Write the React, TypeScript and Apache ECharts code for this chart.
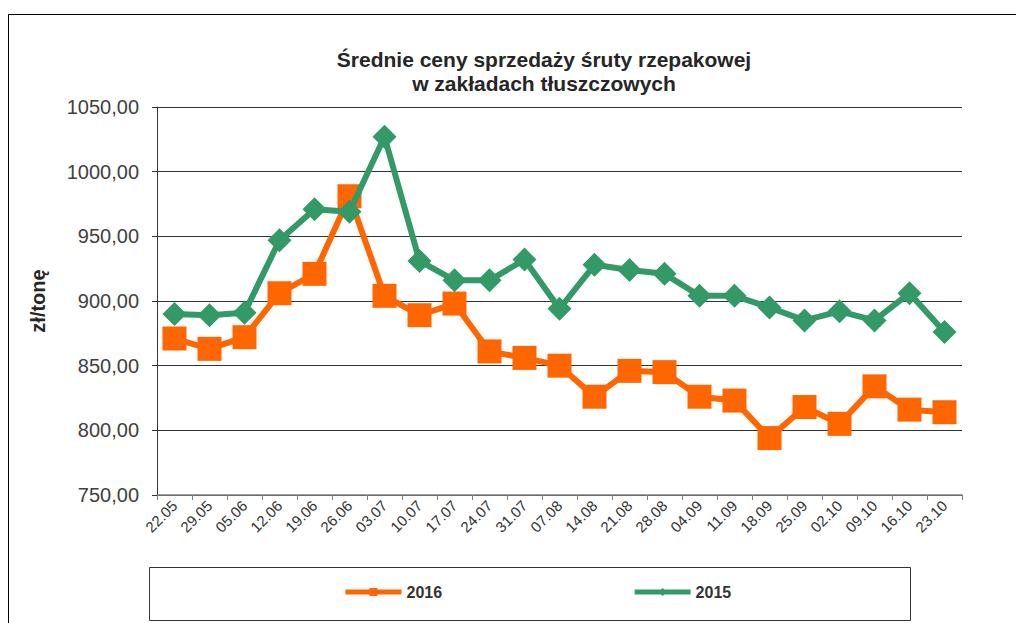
import React, { useEffect, useRef } from "react";
import * as echarts from "echarts";

const categories = ["22.05","29.05","05.06","12.06","19.06","26.06","03.07","10.07","17.07","24.07","31.07","07.08","14.08","21.08","28.08","04.09","11.09","18.09","25.09","02.10","09.10","16.10","23.10"];
const values2016 = [871, 863, 872, 906, 921, 981, 904, 889, 898, 861, 856, 850, 826, 846, 845, 826, 823, 794, 818, 805, 834, 816, 814];
const values2015 = [890, 889, 891, 947, 971, 969, 1027, 931, 916, 916, 932, 894, 928, 924, 921, 904, 904, 895, 885, 892, 885, 906, 876];
const yTicks = { min: 750, max: 1050, interval: 50 };

export default function App() {
  const ref = useRef<HTMLDivElement>(null);
  useEffect(() => {
    if (!ref.current) return;
    const chart = echarts.init(ref.current, undefined, { renderer: "svg" });
    const font = "Liberation Sans, Arial, sans-serif";
    chart.setOption({
      animation: false,
      backgroundColor: "#fff",
      textStyle: { fontFamily: font },
      title: {
        text: "Średnie ceny sprzedaży śruty rzepakowej\nw zakładach tłuszczowych",
        left: 539,
        top: 42,
        textAlign: "center",
        textStyle: { fontSize: 21, fontWeight: "bold", color: "#262626", lineHeight: 24, fontFamily: font },
      },
      grid: { left: 157, right: 54, top: 107, bottom: 128 },
      xAxis: {
        type: "category",
        data: categories,
        boundaryGap: true,
        axisLine: { lineStyle: { color: "#808080", width: 1.5 } },
        axisTick: { show: true, length: 5, lineStyle: { color: "#808080" } },
        axisLabel: { rotate: 45, fontSize: 15, color: "#333", margin: 8, interval: 0, fontFamily: font },
      },
      yAxis: {
        type: "value",
        min: yTicks.min,
        max: yTicks.max,
        interval: yTicks.interval,
        name: "zł/tonę",
        nameLocation: "middle",
        nameGap: 109,
        nameTextStyle: { fontSize: 20, fontWeight: "bold", color: "#262626", fontFamily: font },
        axisLine: { show: true, lineStyle: { color: "#333" } },
        axisTick: { show: true, length: 5, lineStyle: { color: "#333" } },
        axisLabel: {
          fontSize: 20,
          color: "#404040",
          margin: 18,
          fontFamily: font,
          formatter: (v: number) => v.toFixed(2).replace(".", ","),
        },
        splitLine: { lineStyle: { color: "#333", width: 1 } },
      },
      legend: {
        left: 338,
        top: 579,
        itemWidth: 56,
        itemHeight: 10,
        itemGap: 190,
        lineStyle: { width: 5 },
        textStyle: { fontSize: 16, fontWeight: "bold", color: "#333", fontFamily: font },
        data: ["2016", "2015"],
      },
      graphic: [
        {
          type: "rect",
          shape: { x: 8.5, y: 14.5, width: 1020, height: 620 },
          style: { fill: "none", stroke: "#000", lineWidth: 1 },
          silent: true,
        },
        {
          type: "rect",
          shape: { x: 149.5, y: 567.5, width: 761, height: 53 },
          style: { fill: "none", stroke: "#333", lineWidth: 1 },
          silent: true,
        },
      ],
      series: [
        {
          name: "2016",
          type: "line",
          data: values2016,
          symbol: "rect",
          symbolSize: 24,
          lineStyle: { color: "#FF6600", width: 6 },
          itemStyle: { color: "#FF6600" },
          z: 2,
        },
        {
          name: "2015",
          type: "line",
          data: values2015,
          symbol: "diamond",
          symbolSize: 24,
          lineStyle: { color: "#339966", width: 6 },
          itemStyle: { color: "#339966" },
          z: 3,
        },
      ],
    });
    return () => chart.dispose();
  }, []);
  return <div ref={ref} style={{ width: 1016, height: 623, position: "absolute", left: 0, top: 0 }} />;
}
